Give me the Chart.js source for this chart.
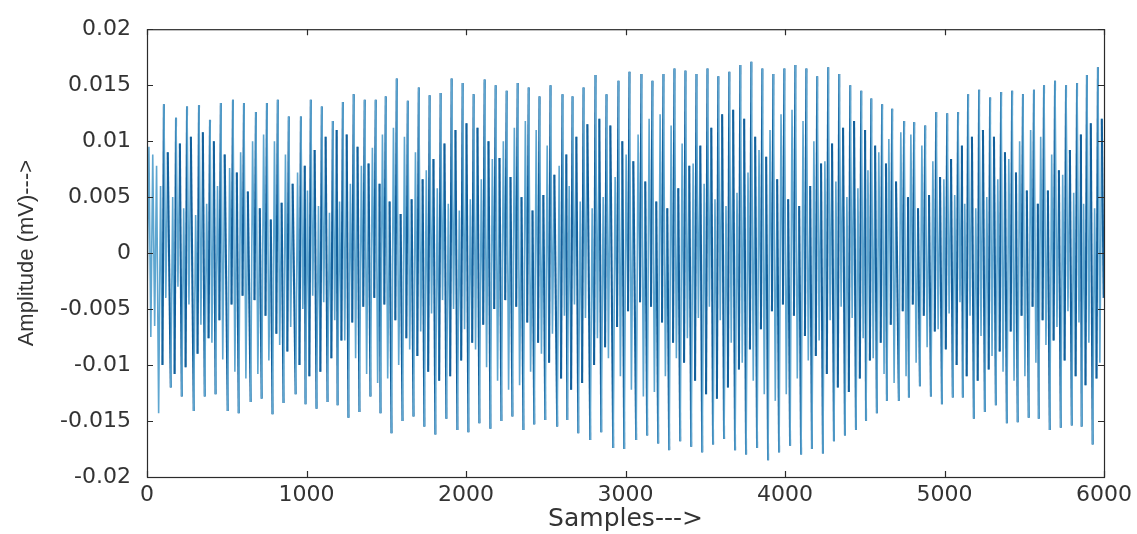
<!DOCTYPE html>
<html lang="en">
<head>
<meta charset="UTF-8">
<title>Amplitude vs Samples</title>
<script src="https://cdn.jsdelivr.net/npm/chart.js@4"></script>
<style>
  html, body { margin: 0; padding: 0; background: #fff; }
  canvas { display: block; }
</style>
</head>
<body>
<canvas id="signalChart" width="1137" height="534"></canvas>
<script>
// axis ticks
const xTicks = [0, 1000, 2000, 3000, 4000, 5000, 6000];
const xTickLabels = ['0', '1000', '2000', '3000', '4000', '5000', '6000'];
const yTicks = [-0.02, -0.015, -0.01, -0.005, 0, 0.005, 0.01, 0.015, 0.02];
const yTickLabels = ['-0.02', '-0.015', '-0.01', '-0.005', '0', '0.005', '0.01', '0.015', '0.02'];

// first few samples before the first full cycle
const startSamples = [0, 12, 24, 36, 48, 60];
const startValues = [-0.0042, 0.0095, -0.0075, 0.0088, -0.0065, 0.0078];

// sample index of each positive peak
const peakSamples = [
  106, 182, 251, 326, 395, 463, 539, 608, 683, 752, 820, 889, 965, 1027, 1096, 1165, 1228, 1296, 1365, 1434, 1497, 1566,
  1635, 1704, 1772, 1841, 1910, 1979, 2048, 2117, 2186, 2255, 2324, 2393, 2461, 2530,
  2605, 2668, 2737, 2812, 2881, 2956, 3025, 3100, 3169,
  3238, 3307, 3376, 3445, 3514, 3582, 3651, 3720, 3789, 3858, 3927, 3996, 4065, 4134, 4202, 4271, 4340, 4409, 4478, 4541,
  4609, 4672, 4747, 4810, 4879, 4948, 5017, 5085, 5148, 5217, 5286, 5355, 5424, 5492, 5561, 5624, 5693, 5762, 5831, 5893, 5962
];

// outer envelope: positive peak and the negative trough just before it
const upperPeaks = [
  0.0133, 0.0121, 0.0131, 0.0132, 0.0119, 0.0134, 0.0137, 0.0134, 0.0126, 0.0134, 0.0137, 0.0122, 0.0122, 0.0137, 0.0131, 0.0118, 0.0135, 0.0142, 0.0137, 0.0137, 0.0140, 0.0156,
  0.0136, 0.0148, 0.0141, 0.0143, 0.0156, 0.0152, 0.0142, 0.0155, 0.0150, 0.0145, 0.0152, 0.0148, 0.0140, 0.0150,
  0.0142, 0.0140, 0.0148, 0.0159, 0.0142, 0.0154, 0.0162, 0.0160, 0.0154,
  0.0160, 0.0165, 0.0163, 0.0160, 0.0165, 0.0158, 0.0162, 0.0168, 0.0171, 0.0165, 0.0160, 0.0165, 0.0168, 0.0165, 0.0158, 0.0166, 0.0160, 0.0150, 0.0145, 0.0138,
  0.0133, 0.0129, 0.0118, 0.0117, 0.0114, 0.0126, 0.0125, 0.0126, 0.0142, 0.0146, 0.0139, 0.0144, 0.0145, 0.0142, 0.0146, 0.0150, 0.0154, 0.0150, 0.0152, 0.0159, 0.0166
];
const lowerPeaks = [
  -0.0143, -0.0120, -0.0128, -0.0141, -0.0128, -0.0126, -0.0141, -0.0143, -0.0133, -0.0130, -0.0144, -0.0134, -0.0126, -0.0135, -0.0139, -0.0133, -0.0136, -0.0147, -0.0142, -0.0128, -0.0143, -0.0161,
  -0.0150, -0.0146, -0.0155, -0.0162, -0.0148, -0.0158, -0.0160, -0.0152, -0.0157, -0.0150, -0.0146, -0.0158, -0.0153, -0.0149,
  -0.0155, -0.0149, -0.0161, -0.0167, -0.0160, -0.0174, -0.0175, -0.0167, -0.0163,
  -0.0170, -0.0176, -0.0168, -0.0173, -0.0178, -0.0171, -0.0166, -0.0176, -0.0180, -0.0174, -0.0185, -0.0178, -0.0172, -0.0180, -0.0175, -0.0179, -0.0168, -0.0163, -0.0158, -0.0150,
  -0.0143, -0.0132, -0.0132, -0.0129, -0.0119, -0.0128, -0.0135, -0.0129, -0.0129, -0.0148, -0.0142, -0.0136, -0.0152, -0.0151, -0.0147, -0.0148, -0.0158, -0.0156, -0.0154, -0.0155, -0.0171
];

// inner (lighter) swings after each peak
const innerLowA = [
  -0.0040, -0.0030, -0.0046, -0.0064, -0.0080, -0.0095, -0.0106, -0.0112, -0.0108, -0.0096, -0.0082, -0.0066, -0.0050,
  -0.0038, -0.0044, -0.0060, -0.0078, -0.0094, -0.0108, -0.0116, -0.0112, -0.0100, -0.0086, -0.0070, -0.0054, -0.0042,
  -0.0050, -0.0068, -0.0086, -0.0102, -0.0114, -0.0122, -0.0118, -0.0106, -0.0090, -0.0072, -0.0056, -0.0046, -0.0058,
  -0.0076, -0.0094, -0.0110, -0.0122, -0.0128, -0.0124, -0.0110, -0.0094, -0.0076, -0.0058, -0.0048, -0.0060, -0.0080,
  -0.0098, -0.0114, -0.0126, -0.0132, -0.0126, -0.0112, -0.0096, -0.0078, -0.0060, -0.0048, -0.0058, -0.0076, -0.0094,
  -0.0108, -0.0116, -0.0110, -0.0098, -0.0084, -0.0068, -0.0054, -0.0044, -0.0056, -0.0074, -0.0092, -0.0106, -0.0114,
  -0.0110, -0.0098, -0.0082, -0.0066, -0.0052, -0.0062, -0.0080, -0.0098
];
const innerHighA = [
  0.0090, 0.0098, 0.0104, 0.0108, 0.0100, 0.0088, 0.0072, 0.0055, 0.0040, 0.0030, 0.0045, 0.0062, 0.0078,
  0.0092, 0.0104, 0.0110, 0.0106, 0.0095, 0.0080, 0.0062, 0.0046, 0.0035, 0.0048, 0.0066, 0.0084, 0.0098,
  0.0110, 0.0116, 0.0112, 0.0100, 0.0085, 0.0068, 0.0050, 0.0038, 0.0052, 0.0070, 0.0088, 0.0104, 0.0115,
  0.0120, 0.0114, 0.0100, 0.0082, 0.0064, 0.0046, 0.0040, 0.0058, 0.0078, 0.0096, 0.0112, 0.0124, 0.0128,
  0.0120, 0.0104, 0.0086, 0.0066, 0.0048, 0.0042, 0.0060, 0.0080, 0.0098, 0.0112, 0.0118, 0.0110, 0.0096,
  0.0080, 0.0064, 0.0050, 0.0040, 0.0052, 0.0068, 0.0084, 0.0096, 0.0104, 0.0110, 0.0104, 0.0090, 0.0072,
  0.0056, 0.0044, 0.0056, 0.0074, 0.0092, 0.0106, 0.0116, 0.0120
];

// inner (lighter) swings after each trough
const innerHighB = [
  0.0060, 0.0050, 0.0040, 0.0034, 0.0044, 0.0060, 0.0076, 0.0090, 0.0100, 0.0106, 0.0100, 0.0088, 0.0072,
  0.0056, 0.0042, 0.0036, 0.0046, 0.0062, 0.0078, 0.0094, 0.0106, 0.0112, 0.0104, 0.0090, 0.0074, 0.0058,
  0.0044, 0.0038, 0.0048, 0.0066, 0.0084, 0.0100, 0.0112, 0.0118, 0.0110, 0.0096, 0.0078, 0.0060, 0.0046,
  0.0040, 0.0050, 0.0068, 0.0088, 0.0106, 0.0120, 0.0124, 0.0114, 0.0098, 0.0080, 0.0062, 0.0048, 0.0042,
  0.0054, 0.0072, 0.0092, 0.0110, 0.0124, 0.0128, 0.0118, 0.0100, 0.0082, 0.0064, 0.0050, 0.0058, 0.0074,
  0.0090, 0.0102, 0.0108, 0.0106, 0.0096, 0.0082, 0.0066, 0.0052, 0.0044, 0.0040, 0.0050, 0.0066, 0.0084,
  0.0100, 0.0110, 0.0104, 0.0088, 0.0070, 0.0054, 0.0044, 0.0040
];
const innerLowB = [
  -0.0100, -0.0108, -0.0102, -0.0090, -0.0076, -0.0060, -0.0046, -0.0038, -0.0042, -0.0056, -0.0072, -0.0088, -0.0100,
  -0.0110, -0.0106, -0.0094, -0.0078, -0.0062, -0.0048, -0.0040, -0.0046, -0.0060, -0.0076, -0.0092, -0.0106, -0.0114,
  -0.0110, -0.0096, -0.0080, -0.0064, -0.0050, -0.0042, -0.0048, -0.0062, -0.0080, -0.0098, -0.0112, -0.0122, -0.0116,
  -0.0100, -0.0084, -0.0066, -0.0052, -0.0044, -0.0048, -0.0062, -0.0080, -0.0098, -0.0114, -0.0126, -0.0130, -0.0120,
  -0.0104, -0.0086, -0.0068, -0.0052, -0.0046, -0.0056, -0.0074, -0.0092, -0.0108, -0.0120, -0.0124, -0.0112, -0.0096,
  -0.0080, -0.0064, -0.0052, -0.0046, -0.0056, -0.0070, -0.0086, -0.0100, -0.0110, -0.0114, -0.0104, -0.0088, -0.0070,
  -0.0056, -0.0048, -0.0060, -0.0078, -0.0096, -0.0110, -0.0118, -0.0112
];

// last sample
const endSamples = [5998];
const endValues = [-0.0040];

// one cycle: trough, inner high, inner low, peak, inner low, inner high
const points = [];
startSamples.forEach((s, i) => points.push({ x: s, y: startValues[i] }));
peakSamples.forEach((p, k) => {
  points.push({ x: p - 33, y: lowerPeaks[k] });
  points.push({ x: p - 21, y: innerHighB[k] });
  points.push({ x: p - 9, y: innerLowB[k] });
  points.push({ x: p, y: upperPeaks[k] });
  points.push({ x: p + 12, y: innerLowA[k] });
  points.push({ x: p + 24, y: innerHighA[k] });
});
endSamples.forEach((s, i) => points.push({ x: s, y: endValues[i] }));

const darkBlue = '#13609c';
const lightBlue = '#5ea6d0';
// the strokes that run into a peak or a trough are the dark ones
const isMainStroke = c => {
  const j = (c.p0DataIndex - startSamples.length) % 6;
  return j === 2 || j === 5;
};

// matlab style box with inward ticks
const boxPlugin = {
  id: 'matlabBox',
  afterDraw(chart) {
    const { ctx, chartArea: a, scales: { x, y } } = chart;
    ctx.save();
    ctx.strokeStyle = '#2b2b2b';
    ctx.lineWidth = 1.2;
    ctx.strokeRect(a.left + 0.5, a.top + 0.5, a.right - a.left, a.bottom - a.top);
    ctx.beginPath();
    xTicks.forEach(v => {
      const px = Math.round(x.getPixelForValue(v)) + 0.5;
      ctx.moveTo(px, a.bottom); ctx.lineTo(px, a.bottom - 6);
      ctx.moveTo(px, a.top); ctx.lineTo(px, a.top + 6);
    });
    yTicks.forEach(v => {
      const py = Math.round(y.getPixelForValue(v)) + 0.5;
      ctx.moveTo(a.left, py); ctx.lineTo(a.left + 6, py);
      ctx.moveTo(a.right, py); ctx.lineTo(a.right - 6, py);
    });
    ctx.stroke();
    ctx.restore();
  }
};

const tickFont = { family: "'DejaVu Sans', sans-serif", size: 22 };
const textColor = '#333333';

new Chart(document.getElementById('signalChart'), {
  type: 'line',
  data: {
    datasets: [{
      label: 'Signal',
      data: points,
      borderColor: lightBlue,
      borderWidth: 1.6,
      pointRadius: 0,
      tension: 0,
      segment: {
        borderColor: c => isMainStroke(c) ? darkBlue : lightBlue,
        borderWidth: c => isMainStroke(c) ? 2.1 : 1.6
      }
    }]
  },
  options: {
    responsive: false,
    animation: false,
    devicePixelRatio: 1,
    layout: { padding: { top: 19, right: 32, left: 0, bottom: 0 } },
    plugins: { legend: { display: false }, tooltip: { enabled: false } },
    scales: {
      x: {
        type: 'linear',
        min: 0,
        max: 6000,
        afterFit: s => { s.height = 57; },
        afterBuildTicks: s => { s.ticks = xTicks.map(v => ({ value: v })); },
        ticks: {
          callback: (v, i) => xTickLabels[i],
          font: tickFont,
          color: textColor,
          padding: 5,
          maxRotation: 0
        },
        grid: { display: false, drawTicks: false },
        border: { display: false },
        title: {
          display: true,
          text: 'Samples--->',
          font: { family: "'DejaVu Sans', sans-serif", size: 25 },
          color: textColor,
          padding: { top: 0, bottom: 0 }
        }
      },
      y: {
        min: -0.02,
        max: 0.02,
        afterFit: s => { s.width = 147; },
        afterBuildTicks: s => { s.ticks = yTicks.map(v => ({ value: v })); },
        ticks: {
          callback: (v, i) => yTickLabels[i],
          font: tickFont,
          color: textColor,
          padding: 16
        },
        grid: { display: false, drawTicks: false },
        border: { display: false },
        title: {
          display: true,
          text: 'Amplitude (mV)--->',
          font: { family: "'Liberation Sans', sans-serif", size: 22 },
          color: textColor,
          padding: { top: 14, bottom: 0 }
        }
      }
    }
  },
  plugins: [boxPlugin]
});
</script>
</body>
</html>
